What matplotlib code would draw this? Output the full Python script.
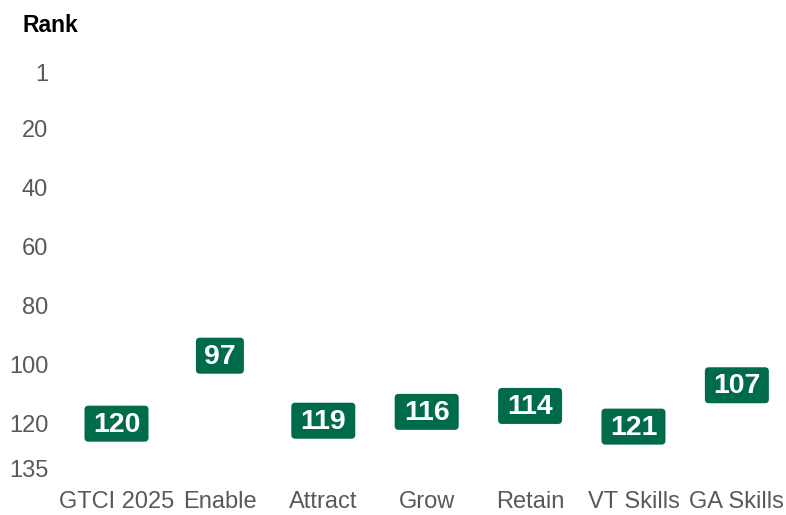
import matplotlib
matplotlib.use("Agg")
import matplotlib.pyplot as plt
from matplotlib.patches import FancyBboxPatch

plt.rcParams['font.family'] = ['Liberation Sans', 'DejaVu Sans']

categories = ['GTCI 2025', 'Enable', 'Attract', 'Grow', 'Retain', 'VT Skills', 'GA Skills']
ranks = [120, 97, 119, 116, 114, 121, 107]
y_ticks = [1, 20, 40, 60, 80, 100, 120, 135]

green = '#006B4B'
grey = '#595959'

W, H = 786, 515
fig = plt.figure(figsize=(W / 100, H / 100), dpi=100)
# axes placed in pixel terms
left, right, top, bottom = 64.8, 783.4, 72, 468
ax = fig.add_axes([left / W, 1 - bottom / H, (right - left) / W, (bottom - top) / H])

xmin, xmax = -0.5, 6.45
ymin, ymax = 1, 135
ax.set_xlim(xmin, xmax)
ax.set_ylim(ymax, ymin)

px_x = (right - left) / (xmax - xmin)
px_y = (bottom - top) / (ymax - ymin)

for i, r in enumerate(ranks):
    txt = str(r)
    w = (16 + 16 * len(txt)) / px_x
    h = 36 / px_y
    box = FancyBboxPatch((i - w / 2, r - h / 2), w, h,
                         boxstyle='round,pad=0,rounding_size=%f' % (4 / px_x),
                         mutation_aspect=px_x / px_y,
                         fc=green, ec='none')
    ax.add_patch(box)
    ax.text(i, r + 0.3, txt, ha='center', va='center', color='white',
            fontsize=20.5, fontweight='bold')

ax.set_xticks(range(len(categories)))
ax.set_xticklabels(categories, fontsize=17, color=grey)
ax.set_yticks(y_ticks)
ax.set_yticklabels([str(t) for t in y_ticks], fontsize=17, color=grey)
ax.tick_params(axis='x', length=0, pad=16.5)
ax.tick_params(axis='y', length=0, pad=12)
for s in ax.spines.values():
    s.set_visible(False)

fig.text(22 / W, 1 - 25 / H, 'Rank', fontsize=16.5, fontweight='bold',
         color='black', ha='left', va='center')

fig.savefig('out.png', dpi=100)
